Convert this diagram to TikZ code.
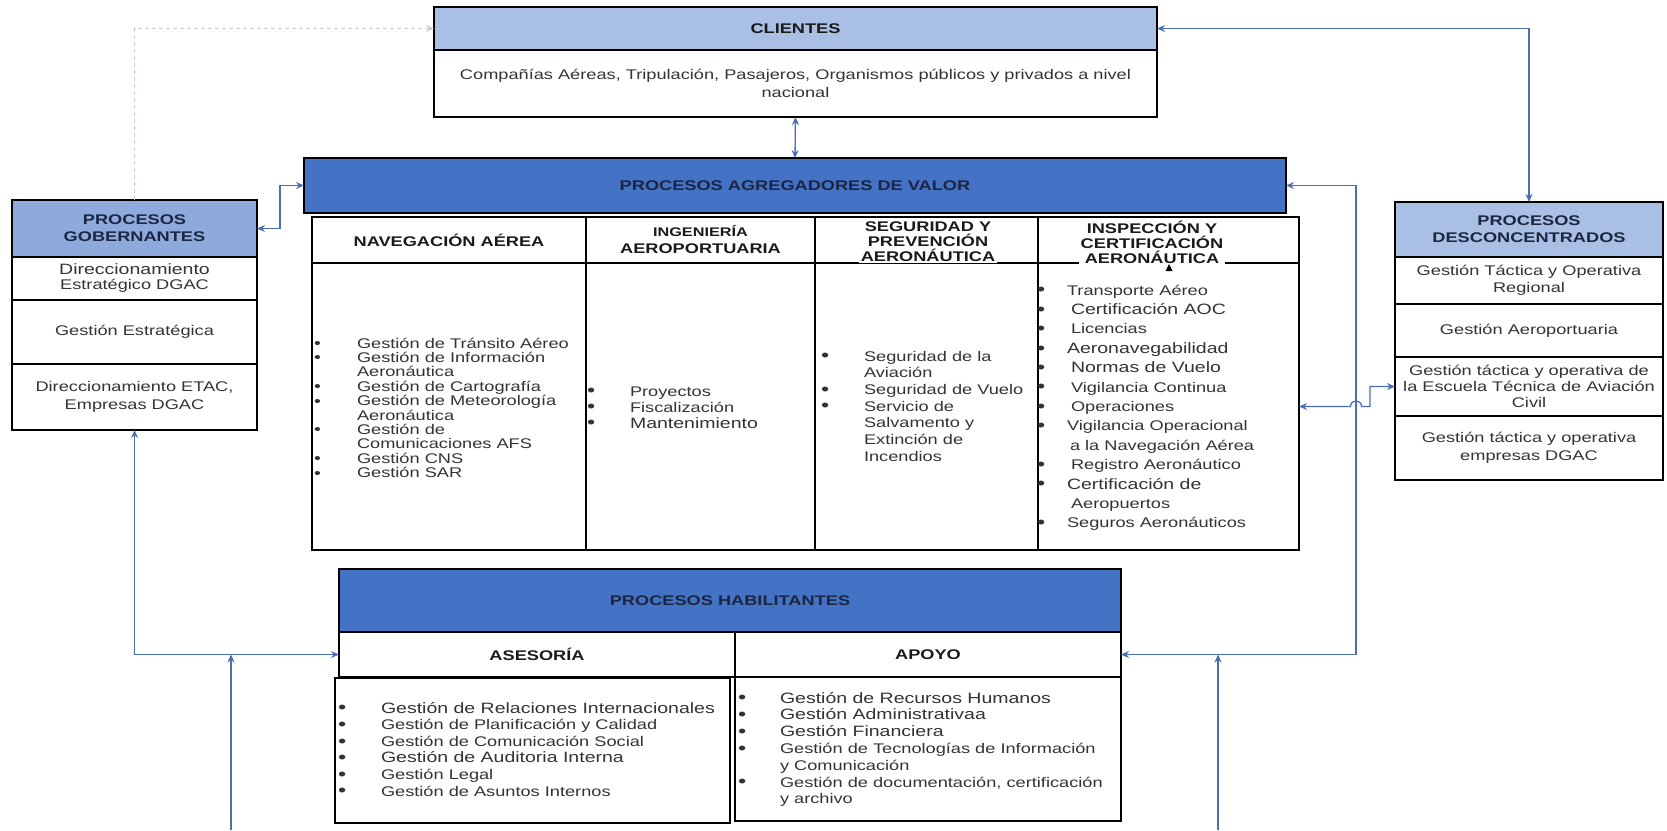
\documentclass[tikz,border=0pt]{standalone}
\usepackage{fontspec}
\setmainfont{Liberation Sans}[FakeStretch=1.3]
\usetikzlibrary{arrows.meta}

\definecolor{lineblue}{HTML}{4A6FB0}
\definecolor{paleblue}{HTML}{A9C0E4}
\definecolor{midblue}{HTML}{8EA9DB}
\definecolor{deepblue}{HTML}{4472C4}
\definecolor{bodytxt}{HTML}{333333}
\definecolor{headtxt}{HTML}{1A1A1A}
\definecolor{navytxt}{HTML}{1C2541}
\definecolor{dotgray}{HTML}{C6CBD4}

% bullet list: #1 = distance from bullet to text, #2 = rows
\newcommand\blist[2]{\begin{tabular}[t]{@{}p{#1}@{}l@{}}#2\end{tabular}}
\newcommand\bfnt[1]{\fontsize{14}{#1}\selectfont}
\newcommand\bul{\raisebox{-0.8pt}{\fontsize{18}{0}\selectfont\textbullet}}
\newcommand\sbul{\raisebox{-0.3pt}{\fontsize{15}{0}\selectfont\textbullet}}
\newcommand\bigitem[1]{{\fontsize{15}{0}\selectfont #1}}

\begin{document}
\begin{tikzpicture}[x=1pt,y=-1pt,
  every node/.style={inner sep=0pt, outer sep=0pt},
  cell/.style={draw=black, line width=1.6pt, anchor=north west, align=center,
               text=bodytxt, font=\bfnt{17}},
  headcell/.style={cell, text=headtxt, font=\bfseries\bfnt{17}},
  bluecell/.style={cell, fill=deepblue, text=navytxt, font=\bfseries\bfnt{17}},
  listnode/.style={anchor=base west, text=bodytxt},
  conn/.style={draw=lineblue, line width=1.3pt},
  dotline/.style={draw=dotgray, line width=1.2pt, dash pattern=on 4pt off 3pt},
  >={Stealth[length=8pt,width=7pt]}
]
\useasboundingbox (0,0) rectangle (1667,830);

% ---------- CLIENTES ----------
\node[headcell, fill=paleblue, minimum width=723pt, minimum height=43pt] (cliH) at (434,7) {CLIENTES};
\node[cell, minimum width=723pt, minimum height=67pt, font=\bfnt{18}] (cliB) at (434,50)
  {Compañías Aéreas, Tripulación, Pasajeros, Organismos públicos y privados a nivel\\nacional};

% ---------- PROCESOS AGREGADORES DE VALOR ----------
\node[bluecell, minimum width=982pt, minimum height=55pt] (agr) at (304,158) {PROCESOS AGREGADORES DE VALOR};

\node[headcell, minimum width=274pt, minimum height=46pt] (navH) at (312,217) {NAVEGACIÓN AÉREA};
\node[headcell, minimum width=229pt, minimum height=46pt] (ingH) at (586,217)
  {{\fontsize{12.5}{16}\selectfont INGENIERÍA}\\AEROPORTUARIA};
\node[headcell, minimum width=223pt, minimum height=46pt] (segH) at (815,217) {};
\node[headcell, minimum width=261pt, minimum height=46pt] (insH) at (1038,217) {};

\node[cell, minimum width=274pt, minimum height=287pt] (navB) at (312,263) {};
\node[cell, minimum width=229pt, minimum height=287pt] (ingB) at (586,263) {};
\node[cell, minimum width=223pt, minimum height=287pt] (segB) at (815,263) {};
\node[cell, minimum width=261pt, minimum height=287pt] (insB) at (1038,263) {};

\node[fill=white, inner sep=1.5pt, align=center, text=headtxt, font=\bfseries\bfnt{15}] (segT) at (928,242)
  {SEGURIDAD Y\\PREVENCIÓN\\AERONÁUTICA};
\node[fill=white, inner sep=1.5pt, align=center, text=headtxt, font=\bfseries\bfnt{15}] (insT) at (1152,242)
  {INSPECCIÓN Y\\CERTIFICACIÓN\\AERONÁUTICA};
\fill[black] (1169,264) -- (1165.5,271) -- (1172.5,271) -- cycle;

\node[listnode, font=\bfnt{13.8}] (navL) at (314,348) {\blist{43pt}{%
  \sbul & Gestión de Tránsito Aéreo\\
  \sbul & Gestión de Información\\
        & Aeronáutica\\
  \sbul & Gestión de Cartografía\\
  \sbul & Gestión de Meteorología\\
        & Aeronáutica\\
  \sbul & Gestión de\\
        & Comunicaciones AFS\\
  \sbul & Gestión CNS\\
  \sbul & Gestión SAR}};

\node[listnode, font=\bfnt{16}] (ingL) at (587,396) {\blist{43pt}{%
  \bul & Proyectos\\
  \bul & Fiscalización\\
  \bul & \bigitem{Mantenimiento}}};

\node[listnode, font=\bfnt{16.7}] (segL) at (821,361) {\blist{43pt}{%
  \bul & Seguridad de la\\
       & Aviación\\
  \bul & Seguridad de Vuelo\\
  \bul & Servicio de\\
       & Salvamento y\\
       & Extinción de\\
       & Incendios}};

\node[listnode, font=\bfnt{19.4}] (insL) at (1037,295) {\blist{30pt}{%
  \bul & Transporte Aéreo\\
  \bul & \hspace{4pt}\bigitem{Certificación AOC}\\
  \bul & \hspace{4pt}Licencias\\
  \bul & \bigitem{Aeronavegabilidad}\\
  \bul & \hspace{4pt}\bigitem{Normas de Vuelo}\\
  \bul & \hspace{4pt}Vigilancia Continua\\
  \bul & \hspace{4pt}Operaciones\\
  \bul & Vigilancia Operacional\\
       & \hspace{3pt}a la Navegación Aérea\\
  \bul & \hspace{4pt}Registro Aeronáutico\\
  \bul & \bigitem{Certificación de}\\
       & \hspace{4pt}Aeropuertos\\
  \bul & Seguros Aeronáuticos}};

% ---------- PROCESOS GOBERNANTES ----------
\node[headcell, fill=midblue, text=navytxt, minimum width=245pt, minimum height=57pt] (gobH) at (12,200)
  {PROCESOS\\GOBERNANTES};
\node[cell, minimum width=245pt, minimum height=43pt, font=\bfnt{15}] (gobR1) at (12,257)
  {\bigitem{Direccionamiento}\\Estratégico DGAC};
\node[cell, minimum width=245pt, minimum height=64pt] (gobR2) at (12,300) {Gestión Estratégica};
\node[cell, minimum width=245pt, minimum height=66pt, font=\bfnt{18}] (gobR3) at (12,364)
  {Direccionamiento ETAC,\\Empresas DGAC};

% ---------- PROCESOS DESCONCENTRADOS ----------
\node[headcell, fill=paleblue, text=navytxt, minimum width=268pt, minimum height=55pt] (desH) at (1395,202)
  {PROCESOS\\DESCONCENTRADOS};
\node[cell, minimum width=268pt, minimum height=47pt] (desR1) at (1395,257)
  {Gestión Táctica y Operativa\\Regional};
\node[cell, minimum width=268pt, minimum height=53pt] (desR2) at (1395,304) {Gestión Aeroportuaria};
\node[cell, minimum width=268pt, minimum height=59pt, font=\bfnt{16}] (desR3) at (1395,357)
  {Gestión táctica y operativa de\\la Escuela Técnica de Aviación\\Civil};
\node[cell, minimum width=268pt, minimum height=64pt, font=\bfnt{18}] (desR4) at (1395,416)
  {Gestión táctica y operativa\\empresas DGAC};

% ---------- PROCESOS HABILITANTES ----------
\node[bluecell, minimum width=782pt, minimum height=63pt] (habH) at (339,569) {PROCESOS HABILITANTES};
\node[headcell, minimum width=396pt, minimum height=45pt] (aseH) at (339,632) {ASESORÍA};
\node[headcell, minimum width=386pt, minimum height=45pt] (apoH) at (735,632) {APOYO};
\node[cell, minimum width=395pt, minimum height=145pt] (aseB) at (335,678) {};
\node[cell, minimum width=386pt, minimum height=144pt] (apoB) at (735,677) {};

\node[listnode, font=\bfnt{16.6}] (aseL) at (338,713) {\blist{43pt}{%
  \bul & \bigitem{Gestión de Relaciones Internacionales}\\
  \bul & Gestión de Planificación y  Calidad\\
  \bul & Gestión de Comunicación Social\\
  \bul & \bigitem{Gestión de Auditoria Interna}\\
  \bul & Gestión Legal\\
  \bul & Gestión de Asuntos Internos}};

\node[listnode, font=\bfnt{16.8}] (apoL) at (738,703) {\blist{42pt}{%
  \bul & \bigitem{Gestión de Recursos Humanos}\\
  \bul & \bigitem{Gestión Administrativaa}\\
  \bul & \bigitem{Gestión Financiera}\\
  \bul & Gestión de Tecnologías  de Información\\
       & y Comunicación\\
  \bul & Gestión de documentación, certificación\\
       & y archivo}};

% ---------- connectors ----------
\coordinate (gobBend) at (280,0);
\coordinate (rightBend) at (1356,0);
\coordinate (jumpL) at (1350.5,406.5);
\coordinate (jumpR) at (1361.5,406.5);
\coordinate (stepX) at (1370,0);
\coordinate (leftFoot) at (231,830);
\coordinate (rightFoot) at (1218,830);

\draw[dotline, ->, >={Stealth[length=8pt,width=7pt,fill=lineblue]}] (gobH.north) |- (cliH.west);
\draw[conn, <->] (cliB.south) -- (agr.north);
\draw[conn, <->] (gobH.east) -- (gobH.east -| gobBend) |- (agr.west);
\draw[conn, <->] (cliH.east) -| (desH.north);
\draw[conn, <->] (agr.east) -- (agr.east -| rightBend) |- (apoH.east);
\draw[conn, <->] (insB.east) -- (jumpL) .. controls (1350.5,399) and (1361.5,399) .. (jumpR)
  -- (jumpR -| stepX) |- (desR3.west);
\draw[conn, <->] (gobR3.south) |- (aseH.west);
\draw[conn, ->] (leftFoot) -- (leftFoot |- aseH.west);
\draw[conn, ->] (rightFoot) -- (rightFoot |- apoH.east);
\end{tikzpicture}
\end{document}
